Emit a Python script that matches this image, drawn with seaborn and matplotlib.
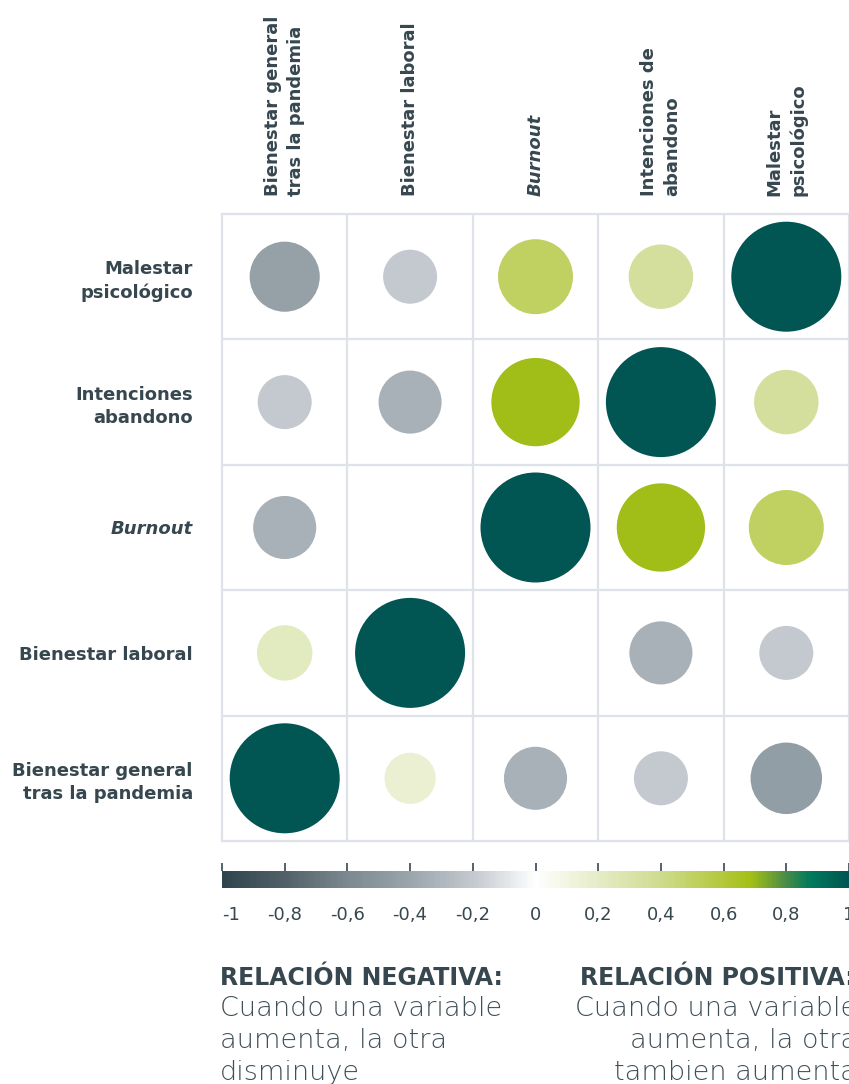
import numpy as np
import pandas as pd
import seaborn as sns
import matplotlib as mpl
import matplotlib.pyplot as plt
from matplotlib.colors import LinearSegmentedColormap, Normalize

# ---- data -------------------------------------------------------------
row_labels = ["Malestar\npsicológico", "Intenciones\nabandono", "Burnout",
              "Bienestar laboral", "Bienestar general\ntras la pandemia"]
col_labels = ["Bienestar general\ntras la pandemia", "Bienestar laboral", "Burnout",
              "Intenciones de\nabandono", "Malestar\npsicológico"]

# correlation of each row variable with the column variables (left to right)
corr_malestar = [-0.43, -0.20, 0.50, 0.35, 1.00]
corr_intenciones = [-0.20, -0.33, 0.69, 1.00, 0.35]
corr_burnout = [-0.33, np.nan, 1.00, 0.69, 0.50]
corr_bienestar_laboral = [0.22, 1.00, np.nan, -0.33, -0.20]
corr_bienestar_general = [1.00, 0.16, -0.33, -0.20, -0.45]

cbar_ticks = [-1, -0.8, -0.6, -0.4, -0.2, 0, 0.2, 0.4, 0.6, 0.8, 1]
cbar_ticklabels = ["-1", "-0,8", "-0,6", "-0,4", "-0,2", "0", "0,2", "0,4", "0,6", "0,8", "1"]

# ---- styling ----------------------------------------------------------
sns.set_theme(style="white")
plt.rcParams["font.family"] = ["DejaVu Sans"]

DARK = "#37474f"
BODY = "#3f4f57"
GRID = "#dde3e8"
DPI = 100
W, H = 849, 1084

cmap = LinearSegmentedColormap.from_list(
    "corr",
    [(0.000, "#2e444c"), (0.100, "#526169"), (0.200, "#7c8990"),
     (0.300, "#9aa5ac"), (0.400, "#c3c9cf"), (0.450, "#e0e3e7"),
     (0.500, "#ffffff"), (0.600, "#e5ecc6"), (0.700, "#cfdb8f"),
     (0.800, "#b3c83a"), (0.845, "#a4bf15"), (0.900, "#4a8d47"),
     (0.940, "#007a5c"), (1.000, "#015552")])

matrix = [corr_malestar, corr_intenciones, corr_burnout,
          corr_bienestar_laboral, corr_bienestar_general]
records = []
for i, row in enumerate(matrix):
    for j, r in enumerate(row):
        if not np.isnan(r):
            records.append({"row": i, "col": j, "r": r})
df = pd.DataFrame(records)

# circle diameter grows with |r|; marker area in points^2
diam_px = 40 + 70 * df["r"].abs()
df["area"] = (diam_px * 72 / DPI) ** 2
amax = ((110 * 72 / DPI) ** 2)

fig = plt.figure(figsize=(W / DPI, H / DPI), dpi=DPI)
ax = fig.add_axes([222 / W, 1 - 841 / H, 627 / W, 627 / H])

sns.scatterplot(data=df, x="col", y="row", hue="r", palette=cmap, hue_norm=(-1, 1),
                size="area", sizes=(0, amax), size_norm=(0, amax),
                linewidth=0, legend=False, ax=ax, zorder=3)

ax.set_xlim(-0.5, 4.5)
ax.set_ylim(4.5, -0.5)
ax.set_xlabel("")
ax.set_ylabel("")

# cell grid
ax.set_xticks(np.arange(4) + 0.5, minor=True)
ax.set_yticks(np.arange(4) + 0.5, minor=True)
ax.grid(which="minor", color=GRID, linewidth=1.6)
ax.grid(which="major", visible=False)
for sp in ax.spines.values():
    sp.set_visible(True)
    sp.set_color(GRID)
    sp.set_linewidth(1.6)

ax.xaxis.tick_top()
ax.set_xticks(range(5))
ax.set_xticklabels(col_labels, rotation=90, ha="center", va="bottom",
                   multialignment="left", fontsize=13, fontweight="bold", color=DARK,
                   linespacing=1.35)
ax.set_yticks(range(5))
ax.set_yticklabels(row_labels, fontsize=13, fontweight="bold", color=DARK,
                   linespacing=1.35)
ax.tick_params(axis="x", which="both", length=0, pad=13)
ax.tick_params(axis="y", which="both", length=0, pad=21)
ax.get_xticklabels()[2].set_style("italic")
ax.get_yticklabels()[2].set_style("italic")

# colour scale
cax = fig.add_axes([222 / W, 1 - 888 / H, 627 / W, 17 / H])
cb = mpl.colorbar.ColorbarBase(cax, cmap=cmap, norm=Normalize(-1, 1),
                               orientation="horizontal")
cb.outline.set_visible(False)
cb.set_ticks(cbar_ticks)
cb.set_ticklabels(cbar_ticklabels)
cax.tick_params(axis="x", top=True, bottom=False, labeltop=False, labelbottom=True,
                direction="out", length=6, width=1.2, color=DARK, pad=7,
                labelsize=13, labelcolor=DARK)
cax.get_xticklabels()[0].set_ha("left")

# explanatory notes
fig.text(220 / W, 1 - 985 / H, "RELACIÓN NEGATIVA:", fontsize=17, fontweight="bold",
         color=DARK, ha="left", va="baseline")
fig.text(580 / W, 1 - 985 / H, "RELACIÓN POSITIVA:", fontsize=17, fontweight="bold",
         color=DARK, ha="left", va="baseline")
neg_lines = ["Cuando una variable", "aumenta, la otra", "disminuye"]
pos_lines = ["Cuando una variable", "aumenta, la otra", "tambien aumenta"]
for k, (a, b) in enumerate(zip(neg_lines, pos_lines)):
    y = 1 - (1016 + 32 * k) / H
    fig.text(220 / W, y, a, fontsize=19.5, fontweight="light", color=BODY,
             ha="left", va="baseline")
    fig.text(857 / W, y, b, fontsize=19.5, fontweight="light", color=BODY,
             ha="right", va="baseline")

fig.savefig("out.png", dpi=DPI)
